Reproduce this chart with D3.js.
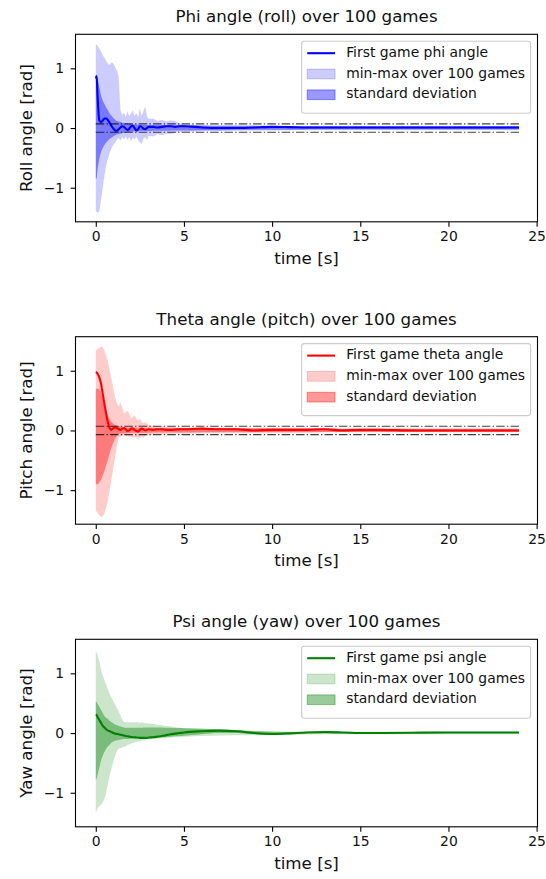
<!DOCTYPE html>
<html>
<head>
<meta charset="utf-8">
<script src="https://cdn.jsdelivr.net/npm/d3@7"></script>
<style>
  body { margin: 0; background: #fff; }
  svg text { font-family: "DejaVu Sans", sans-serif; fill: #111; }
</style>
</head>
<body>
<script>
// time samples [s]
var timeS = [0, 0.05, 0.1, 0.2, 0.3, 0.4, 0.5, 0.6, 0.7, 0.8,
    0.9, 1.0, 1.1, 1.2, 1.3, 1.4, 1.5, 1.6, 1.7, 1.8,
    1.9, 2.0, 2.1, 2.2, 2.3, 2.4, 2.5, 2.6, 2.7, 2.8,
    2.9, 3.0, 3.25, 3.5, 3.75, 4.0, 4.25, 4.5, 4.75, 5,
    6, 7, 8, 9, 10, 11, 12, 13, 14, 15,
    16, 18, 20, 22, 24];

// phi (roll)
var phiFirst = [0.83, 0.87, 0.55, 0.13, 0.10, 0.13, 0.16, 0.16, 0.13, 0.08,
    0.03, -0.01, -0.04, -0.045, -0.02, 0.01, 0.03, 0.02, -0.01, -0.03,
    -0.01, 0.03, 0.04, 0.0, -0.04, -0.02, 0.03, 0.02, -0.01, -0.02,
    0.0, 0.02, 0.02, 0.01, 0.02, 0.03, 0.03, 0.02, 0.03, 0.03,
    0.01, 0.0, 0.0, 0.01, 0.02, 0.015, 0.01, 0.01, 0.01, 0.01,
    0.01, 0.01, 0.01, 0.01, 0.01];
var phiMax = [1.39, 1.40, 1.38, 1.33, 1.28, 1.22, 1.17, 1.12, 1.07, 1.06,
    1.10, 1.08, 1.02, 0.97, 0.85, 0.30, 0.22, 0.26, 0.18, 0.28,
    0.20, 0.24, 0.30, 0.20, 0.25, 0.18, 0.33, 0.20, 0.28, 0.36,
    0.20, 0.15, 0.16, 0.12, 0.14, 0.11, 0.13, 0.12, 0.07, 0.06,
    0.05, 0.05, 0.05, 0.045, 0.04, 0.035, 0.03, 0.03, 0.03, 0.03,
    0.03, 0.03, 0.03, 0.03, 0.03];
var phiMin = [-1.38, -1.40, -1.42, -1.40, -1.20, -0.98, -0.78, -0.62, -0.50, -0.40,
    -0.33, -0.28, -0.24, -0.20, -0.17, -0.21, -0.15, -0.19, -0.14, -0.20,
    -0.15, -0.22, -0.16, -0.19, -0.14, -0.20, -0.24, -0.27, -0.18, -0.15,
    -0.20, -0.13, -0.14, -0.10, -0.12, -0.09, -0.10, -0.08, -0.06, -0.06,
    -0.05, -0.05, -0.045, -0.04, -0.04, -0.035, -0.03, -0.03, -0.03, -0.03,
    -0.03, -0.03, -0.03, -0.03, -0.03];
var phiStdHi = [0.88, 0.88, 0.82, 0.68, 0.55, 0.46, 0.40, 0.34, 0.29, 0.24,
    0.20, 0.17, 0.14, 0.12, 0.11, 0.10, 0.09, 0.085, 0.08, 0.075,
    0.07, 0.065, 0.06, 0.06, 0.06, 0.055, 0.055, 0.055, 0.05, 0.05,
    0.05, 0.05, 0.05, 0.05, 0.05, 0.045, 0.045, 0.045, 0.045, 0.045,
    0.04, 0.035, 0.035, 0.035, 0.035, 0.03, 0.03, 0.03, 0.03, 0.03,
    0.03, 0.03, 0.03, 0.03, 0.03];
var phiStdLo = [-0.85, -0.84, -0.70, -0.52, -0.40, -0.33, -0.28, -0.24, -0.21, -0.18,
    -0.16, -0.14, -0.12, -0.11, -0.10, -0.09, -0.085, -0.08, -0.075, -0.07,
    -0.065, -0.06, -0.06, -0.055, -0.055, -0.055, -0.05, -0.05, -0.05, -0.05,
    -0.05, -0.05, -0.045, -0.045, -0.045, -0.045, -0.04, -0.04, -0.04, -0.04,
    -0.035, -0.035, -0.03, -0.03, -0.03, -0.03, -0.025, -0.025, -0.025, -0.025,
    -0.025, -0.025, -0.025, -0.025, -0.025];

// theta (pitch)
var thetaFirst = [0.98, 0.97, 0.95, 0.89, 0.78, 0.60, 0.43, 0.26, 0.12, 0.03,
    0.01, 0.04, 0.05, 0.04, 0.02, 0.01, 0.03, 0.04, 0.02, -0.01,
    0.0, 0.03, 0.03, 0.01, -0.01, -0.02, 0.01, 0.03, 0.02, 0.0,
    0.01, 0.02, 0.01, 0.02, 0.02, 0.01, 0.01, 0.015, 0.02, 0.02,
    0.03, 0.02, 0.02, 0.0, 0.01, 0.01, 0.01, 0.02, 0.0, 0.01,
    0.01, 0.0, 0.0, 0.0, 0.0];
var thetaMax = [1.34, 1.35, 1.37, 1.39, 1.40, 1.39, 1.33, 1.25, 1.14, 1.00,
    0.85, 0.70, 0.55, 0.45, 0.40, 0.47, 0.38, 0.28, 0.30, 0.34,
    0.28, 0.20, 0.22, 0.26, 0.20, 0.16, 0.20, 0.14, 0.12, 0.14,
    0.12, 0.09, 0.08, 0.07, 0.065, 0.06, 0.06, 0.055, 0.05, 0.05,
    0.05, 0.05, 0.045, 0.04, 0.04, 0.035, 0.035, 0.03, 0.03, 0.03,
    0.03, 0.03, 0.03, 0.03, 0.03];
var thetaMin = [-1.34, -1.36, -1.38, -1.42, -1.45, -1.44, -1.38, -1.28, -1.14, -0.98,
    -0.80, -0.62, -0.44, -0.27, -0.12, -0.10, -0.09, -0.08, -0.09, -0.10,
    -0.10, -0.11, -0.12, -0.11, -0.13, -0.14, -0.12, -0.10, -0.12, -0.10,
    -0.08, -0.08, -0.07, -0.06, -0.06, -0.055, -0.05, -0.05, -0.05, -0.05,
    -0.045, -0.04, -0.04, -0.04, -0.035, -0.035, -0.035, -0.03, -0.03, -0.03,
    -0.03, -0.03, -0.03, -0.03, -0.03];
var thetaStdHi = [0.70, 0.70, 0.70, 0.69, 0.63, 0.52, 0.40, 0.32, 0.24, 0.18,
    0.14, 0.11, 0.09, 0.08, 0.07, 0.065, 0.06, 0.055, 0.055, 0.05,
    0.05, 0.05, 0.05, 0.05, 0.045, 0.045, 0.045, 0.045, 0.045, 0.045,
    0.045, 0.045, 0.04, 0.04, 0.04, 0.04, 0.04, 0.04, 0.04, 0.04,
    0.04, 0.04, 0.035, 0.035, 0.035, 0.035, 0.035, 0.035, 0.03, 0.03,
    0.03, 0.03, 0.03, 0.03, 0.03];
var thetaStdLo = [-0.89, -0.90, -0.90, -0.87, -0.82, -0.75, -0.67, -0.57, -0.48, -0.37,
    -0.28, -0.20, -0.14, -0.09, -0.06, -0.05, -0.05, -0.045, -0.045, -0.045,
    -0.045, -0.04, -0.04, -0.04, -0.04, -0.04, -0.04, -0.04, -0.04, -0.04,
    -0.04, -0.04, -0.035, -0.035, -0.035, -0.035, -0.035, -0.035, -0.035, -0.035,
    -0.03, -0.03, -0.03, -0.03, -0.03, -0.03, -0.03, -0.025, -0.025, -0.025,
    -0.025, -0.025, -0.025, -0.025, -0.025];

// psi (yaw)
var psiFirst = [0.31, 0.30, 0.27, 0.22, 0.17, 0.12, 0.09, 0.06, 0.04, 0.03,
    0.015, 0.0, -0.01, -0.015, -0.02, -0.03, -0.035, -0.04, -0.05, -0.055,
    -0.06, -0.065, -0.07, -0.07, -0.075, -0.075, -0.08, -0.08, -0.08, -0.08,
    -0.08, -0.075, -0.07, -0.06, -0.05, -0.035, -0.02, -0.01, 0.0, 0.01,
    0.03, 0.04, 0.03, 0.0, -0.015, -0.005, 0.01, 0.015, 0.01, 0.0,
    0.0, 0.005, 0.01, 0.01, 0.01];
var psiMax = [1.37, 1.35, 1.31, 1.20, 1.06, 0.96, 0.88, 0.80, 0.72, 0.65,
    0.59, 0.53, 0.47, 0.42, 0.36, 0.30, 0.22, 0.19, 0.18, 0.18,
    0.18, 0.18, 0.18, 0.18, 0.18, 0.18, 0.17, 0.18, 0.17, 0.17,
    0.16, 0.16, 0.15, 0.14, 0.13, 0.12, 0.11, 0.10, 0.09, 0.085,
    0.07, 0.065, 0.05, 0.04, 0.03, 0.025, 0.025, 0.025, 0.02, 0.02,
    0.02, 0.02, 0.02, 0.02, 0.02];
var psiMin = [-1.34, -1.30, -1.26, -1.23, -1.20, -1.16, -1.10, -0.98, -0.84, -0.70,
    -0.58, -0.47, -0.38, -0.30, -0.26, -0.25, -0.24, -0.23, -0.22, -0.20,
    -0.19, -0.18, -0.17, -0.16, -0.15, -0.14, -0.14, -0.13, -0.12, -0.12,
    -0.11, -0.11, -0.10, -0.09, -0.085, -0.08, -0.075, -0.07, -0.065, -0.06,
    -0.05, -0.04, -0.035, -0.035, -0.035, -0.03, -0.025, -0.02, -0.02, -0.02,
    -0.02, -0.02, -0.02, -0.02, -0.02];
var psiStdHi = [0.53, 0.52, 0.49, 0.44, 0.39, 0.33, 0.28, 0.25, 0.23, 0.20,
    0.18, 0.16, 0.145, 0.13, 0.12, 0.11, 0.10, 0.095, 0.09, 0.09,
    0.09, 0.09, 0.09, 0.09, 0.09, 0.09, 0.09, 0.09, 0.095, 0.095,
    0.095, 0.095, 0.095, 0.095, 0.095, 0.09, 0.09, 0.085, 0.085, 0.08,
    0.07, 0.06, 0.045, 0.03, 0.02, 0.015, 0.02, 0.025, 0.02, 0.01,
    0.01, 0.015, 0.015, 0.015, 0.015];
var psiStdLo = [-0.78, -0.76, -0.70, -0.58, -0.46, -0.38, -0.31, -0.26, -0.22, -0.19,
    -0.16, -0.14, -0.13, -0.12, -0.115, -0.11, -0.105, -0.10, -0.10, -0.10,
    -0.095, -0.095, -0.095, -0.09, -0.09, -0.09, -0.09, -0.09, -0.09, -0.085,
    -0.085, -0.085, -0.08, -0.075, -0.07, -0.065, -0.06, -0.055, -0.05, -0.045,
    -0.02, 0.0, 0.0, -0.02, -0.03, -0.02, 0.0, 0.005, -0.005, -0.01,
    -0.01, 0.0, 0.0, 0.0, 0.0];

// +/- 4 degree limit lines (rad), only on phi and theta
var limitLines = [-0.0698, 0.0698];
var xTicks = [0, 5, 10, 15, 20, 25];
var yTicks = [-1, 0, 1];

var panels = [
    {title: "Phi angle (roll) over 100 games", ylabel: "Roll angle [rad]", color: "#0000ff",
        name: "First game phi angle", first: phiFirst, min: phiMin, max: phiMax,
        lo: phiStdLo, hi: phiStdHi, limits: limitLines},
    {title: "Theta angle (pitch) over 100 games", ylabel: "Pitch angle [rad]", color: "#ff0000",
        name: "First game theta angle", first: thetaFirst, min: thetaMin, max: thetaMax,
        lo: thetaStdLo, hi: thetaStdHi, limits: limitLines},
    {title: "Psi angle (yaw) over 100 games", ylabel: "Yaw angle [rad]", color: "#008000",
        name: "First game psi angle", first: psiFirst, min: psiMin, max: psiMax,
        lo: psiStdLo, hi: psiStdHi, limits: []}
];

var _width = 546, _height = 879;
var axLeft = 75.5, axRight = 537.5, axH = 187.5;
var axTops = [34.3, 336.7, 639.3];
var tickFs = 13.9, labelFs = 16.7;

var svg = d3.select("body").append("svg")
    .attr("width", _width)
    .attr("height", _height);

var x = d3.scaleLinear().domain([-1.15, 25.05]).range([axLeft, axRight]);

panels.forEach(function (p, k) {
    var top = axTops[k];
    var y = d3.scaleLinear().domain([-1.57, 1.57]).range([top + axH, top]);
    var g = svg.append("g");

    var bandMinMax = d3.area()
        .x(function (d, i) { return x(timeS[i]); })
        .y0(function (d, i) { return y(p.min[i]); })
        .y1(function (d, i) { return y(p.max[i]); });
    var bandStd = d3.area()
        .x(function (d, i) { return x(timeS[i]); })
        .y0(function (d, i) { return y(p.lo[i]); })
        .y1(function (d, i) { return y(p.hi[i]); })
        .curve(d3.curveMonotoneX);
    var line = d3.line()
        .x(function (d, i) { return x(timeS[i]); })
        .y(function (d) { return y(d); })
        .curve(d3.curveMonotoneX);

    g.append("path").datum(timeS)
        .attr("d", bandMinMax)
        .attr("fill", p.color).attr("fill-opacity", 0.2);
    g.append("path").datum(timeS)
        .attr("d", bandStd)
        .attr("fill", p.color).attr("fill-opacity", 0.4);
    g.append("path").datum(p.first)
        .attr("d", line)
        .attr("fill", "none")
        .attr("stroke", p.color)
        .attr("stroke-width", 2.1);

    g.selectAll("line.limit").data(p.limits).enter().append("line")
        .attr("class", "limit")
        .attr("x1", x(timeS[0])).attr("x2", x(timeS[timeS.length - 1]))
        .attr("y1", y).attr("y2", y)
        .attr("stroke", "#000").attr("stroke-opacity", 0.75)
        .attr("stroke-width", 1.1)
        .attr("stroke-dasharray", "8.5,2.2,1.4,2.2");

    // axes
    var xAxis = g.append("g")
        .attr("transform", "translate(0," + (top + axH) + ")")
        .call(d3.axisBottom(x).tickValues(xTicks).tickSize(4.9).tickPadding(4.6)
            .tickFormat(d3.format("d")));
    var yAxis = g.append("g")
        .attr("transform", "translate(" + axLeft + ",0)")
        .call(d3.axisLeft(y).tickValues(yTicks).tickSize(4.9).tickPadding(6.5)
            .tickFormat(d3.format("d")));
    [xAxis, yAxis].forEach(function (a) {
        a.select(".domain").remove();
        a.selectAll(".tick line").attr("stroke", "#000").attr("stroke-width", 1.1);
        a.selectAll(".tick text")
            .attr("font-size", tickFs)
            .attr("font-family", "DejaVu Sans")
            .attr("fill", "#111");
    });

    g.append("rect")
        .attr("x", axLeft).attr("y", top)
        .attr("width", axRight - axLeft).attr("height", axH)
        .attr("fill", "none")
        .attr("stroke", "#000").attr("stroke-width", 1.1);

    g.append("text")
        .attr("x", (axLeft + axRight) / 2).attr("y", top - 12)
        .attr("text-anchor", "middle")
        .attr("font-size", labelFs)
        .text(p.title);
    g.append("text")
        .attr("x", (axLeft + axRight) / 2).attr("y", top + axH + 42)
        .attr("text-anchor", "middle")
        .attr("font-size", labelFs)
        .text("time [s]");
    g.append("text")
        .attr("transform", "translate(32," + (top + axH / 2) + ") rotate(-90)")
        .attr("text-anchor", "middle")
        .attr("font-size", labelFs)
        .text(p.ylabel);

    // legend
    var labels = [p.name, "min-max over 100 games", "standard deviation"];
    var lg = g.append("g");
    var box = lg.append("rect");
    var texts = lg.selectAll("text").data(labels).enter().append("text")
        .attr("font-size", tickFs)
        .text(function (d) { return d; });
    var maxW = d3.max(texts.nodes(), function (n) { return n.getComputedTextLength(); });
    var boxW = 5.6 + 27.8 + 11.1 + maxW + 5.6;
    var boxX = axRight - 6.9 - boxW, boxY = top + 6.9;
    box.attr("x", boxX).attr("y", boxY)
        .attr("width", boxW).attr("height", 72)
        .attr("rx", 2.5)
        .attr("fill", "#fff").attr("fill-opacity", 0.8)
        .attr("stroke", "#cccccc").attr("stroke-width", 1.1);
    texts.attr("x", boxX + 5.6 + 27.8 + 11.1)
        .attr("y", function (d, i) { return boxY + 15.5 + i * 20.8; });
    var hx = boxX + 5.6;
    lg.append("line")
        .attr("x1", hx).attr("x2", hx + 27.8)
        .attr("y1", boxY + 12).attr("y2", boxY + 12)
        .attr("stroke", p.color).attr("stroke-width", 2.1);
    [0.2, 0.4].forEach(function (op, j) {
        lg.append("rect")
            .attr("x", hx).attr("y", boxY + 32.8 + j * 20.8 - 4.9)
            .attr("width", 27.8).attr("height", 9.7)
            .attr("fill", p.color).attr("fill-opacity", op)
            .attr("stroke", p.color).attr("stroke-opacity", op);
    });
});
</script>
</body>
</html>
